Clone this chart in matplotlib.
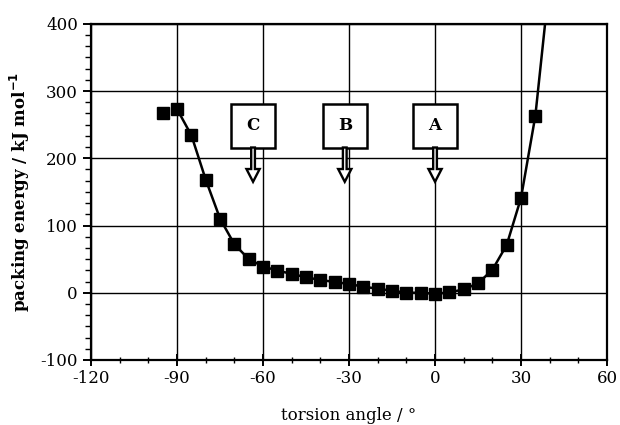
import matplotlib
matplotlib.use('Agg')
import matplotlib.pyplot as plt
from matplotlib.patches import Rectangle, FancyArrow
from matplotlib.ticker import MultipleLocator, AutoMinorLocator

plt.rcParams['font.family'] = ['DejaVu Serif']
plt.rcParams['axes.unicode_minus'] = False

# packing energy vs torsion angle
angle = [-95, -90, -85, -80, -75, -70, -65, -60, -55, -50, -45, -40, -35,
         -30, -25, -20, -15, -10, -5, 0, 5, 10, 15, 20, 25, 30, 35]
energy = [268, 273, 234, 168, 110, 72, 50, 39, 33, 28, 23, 19, 16,
          13, 9, 6, 3, 0, 0, -1.5, 0.5, 5, 14, 34, 71, 141, 263]
# the fitted curve runs on past the last point up to the top of the frame
curve_x = angle[1:] + [38.4]
curve_y = energy[1:] + [400]

# conformations marked with arrows
marks = ['C', 'B', 'A']
mark_angle = [-63.5, -31.5, 0]

fig = plt.figure(figsize=(6.2, 4.25), dpi=100)
ax = fig.add_axes([0.147, 0.153, 0.832, 0.791])

ax.plot(curve_x, curve_y, color='black', lw=1.8, zorder=3)
ax.plot(angle, energy, ls='none', marker='s', ms=8.3, color='black', zorder=4)

for lab, x in zip(marks, mark_angle):
    ax.add_patch(Rectangle((x - 7.6, 216), 15.2, 65, fc='white', ec='black',
                           lw=1.8, zorder=5))
    ax.text(x, 248.5, lab, ha='center', va='center', fontsize=12,
            fontweight='bold', zorder=6)
    ax.add_patch(FancyArrow(x, 216, 0, -51, width=1.3, head_width=4.6,
                            head_length=19, length_includes_head=True,
                            fc='white', ec='black', lw=1.7, zorder=5))

ax.set_xlim(-120, 60)
ax.set_ylim(-100, 400)
ax.xaxis.set_major_locator(MultipleLocator(30))
ax.xaxis.set_minor_locator(MultipleLocator(10))
ax.yaxis.set_major_locator(MultipleLocator(100))
ax.yaxis.set_minor_locator(AutoMinorLocator(6))
ax.grid(True, which='major', color='black', lw=1.0)
ax.set_axisbelow(True)

for s in ax.spines.values():
    s.set_linewidth(1.6)
ax.tick_params(axis='x', which='major', direction='inout', length=9, width=1.4,
               labelsize=12, pad=3)
ax.tick_params(axis='x', which='minor', direction='inout', length=5, width=1.0)
ax.tick_params(axis='y', which='major', direction='out', length=6, width=1.4,
               labelsize=12)
ax.tick_params(axis='y', which='minor', direction='out', length=4, width=1.0)

ax.set_xlabel('torsion angle / °', fontsize=12, labelpad=14)
ax.set_ylabel('packing energy / kJ mol$^{\\mathbf{-1}}$', fontsize=12,
              fontweight='bold', labelpad=6)

fig.savefig('out.png', dpi=100)
